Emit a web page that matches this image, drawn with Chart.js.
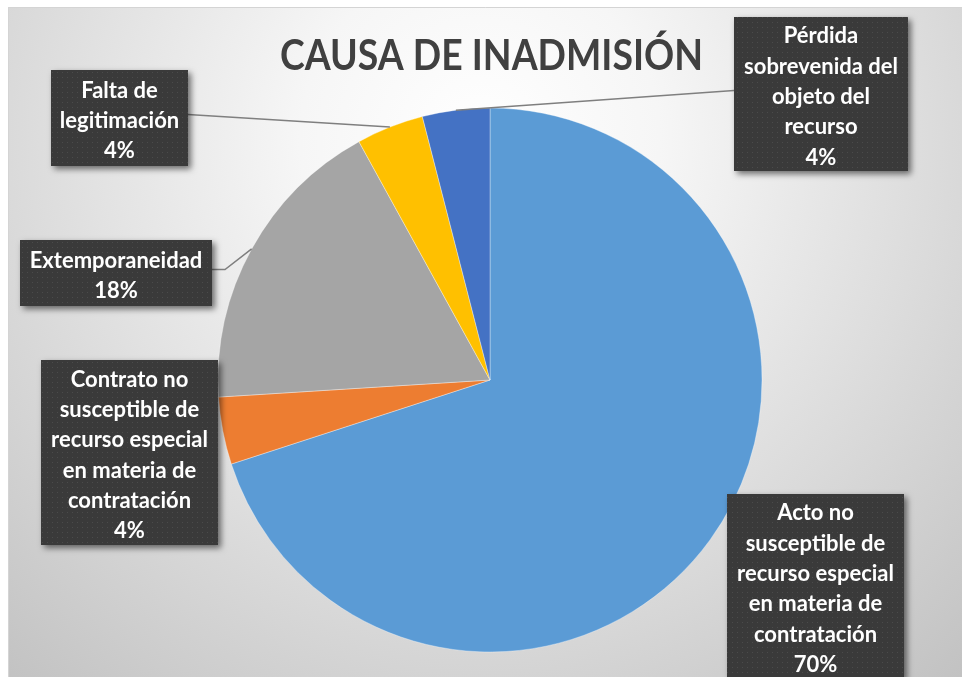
<!DOCTYPE html>
<html><head><meta charset="utf-8">
<script src="https://cdn.jsdelivr.net/npm/chart.js@4/dist/chart.umd.min.js"></script>
<style>html,body{margin:0;padding:0;background:#fff;overflow:hidden}#wrap{width:962px;height:677px;position:relative}</style>
</head><body><div id="wrap"><canvas id="c" width="962" height="677"></canvas></div>
<script>
const chartTitle = 'CAUSA DE INADMISIÓN';
const categories = [
  ['Acto no','susceptible de','recurso especial','en materia de','contratación'],
  ['Contrato no','susceptible de','recurso especial','en materia de','contratación'],
  ['Extemporaneidad'],
  ['Falta de','legitimación'],
  ['Pérdida','sobrevenida del','objeto del','recurso']
];
const values = [70, 4, 18, 4, 4];
const colors = ['#5B9BD5','#ED7D31','#A5A5A5','#FFC000','#4472C4'];

// label box layout (styling/layout, not data)
const boxes = [
  {x:727, y:494, w:177, h:184, leader:null},
  {x:41,  y:360, w:177, h:185, leader:null},
  {x:20,  y:240, w:192, h:66,  leader:'right', elbow:13},
  {x:51,  y:70,  w:137, h:96,  leader:'right'},
  {x:734, y:17,  w:174, h:154, leader:'left'}
];

function makePattern(ctx){
  const p = document.createElement('canvas');
  p.width = 5; p.height = 5;
  const pc = p.getContext('2d');
  pc.fillStyle = '#3a3a3a'; pc.fillRect(0,0,5,5);
  pc.fillStyle = '#4b4b4b'; pc.fillRect(2,2,1,1);
  return ctx.createPattern(p, 'repeat');
}

const bgPlugin = {
  id: 'bg',
  beforeDraw(chart){
    const ctx = chart.ctx;
    ctx.save();
    ctx.fillStyle = '#ffffff';
    ctx.fillRect(0,0,chart.width,chart.height);
    const g = ctx.createRadialGradient(480,140,0,480,140,720);
    g.addColorStop(0,'#ffffff');
    g.addColorStop(0.25,'#f6f6f6');
    g.addColorStop(1,'#c2c2c2');
    ctx.fillStyle = g;
    ctx.fillRect(8,7,chart.width-8,chart.height-7);
    ctx.strokeStyle = '#d4d4d4';
    ctx.lineWidth = 1;
    ctx.beginPath();
    ctx.moveTo(8.5,chart.height); ctx.lineTo(8.5,7.5); ctx.lineTo(chart.width,7.5);
    ctx.stroke();
    ctx.restore();
  }
};

const labelPlugin = {
  id: 'labels',
  afterDatasetsDraw(chart){
    const ctx = chart.ctx;
    const meta = chart.getDatasetMeta(0);
    const total = values.reduce((a,b)=>a+b,0);
    const pattern = makePattern(ctx);
    ctx.save();
    // leader lines
    meta.data.forEach((arc, i) => {
      const b = boxes[i];
      if (!b.leader) return;
      const mid = (arc.startAngle + arc.endAngle)/2;
      const px = arc.x + Math.cos(mid)*arc.outerRadius;
      const py = arc.y + Math.sin(mid)*arc.outerRadius;
      const ay = b.y + b.h/2 - 3.5;
      const ax = b.leader === 'left' ? b.x : b.x + b.w;
      ctx.strokeStyle = '#7f7f7f';
      ctx.lineWidth = 1.5;
      ctx.beginPath();
      ctx.moveTo(px, py);
      if (b.elbow) ctx.lineTo(ax + b.elbow, ay);
      ctx.lineTo(ax, ay);
      ctx.stroke();
    });
    // boxes
    meta.data.forEach((arc, i) => {
      const b = boxes[i];
      ctx.save();
      ctx.shadowColor = 'rgba(0,0,0,0.55)';
      ctx.shadowBlur = 6;
      ctx.shadowOffsetX = 3;
      ctx.shadowOffsetY = 3;
      ctx.fillStyle = pattern;
      ctx.fillRect(b.x, b.y, b.w, b.h);
      ctx.restore();
      const lines = categories[i].concat([Math.round(values[i]/total*100) + '%']);
      ctx.fillStyle = '#ffffff';
      ctx.font = 'bold 22px Lato';
      ctx.textAlign = 'center';
      ctx.textBaseline = 'middle';
      const lh = 30.3;
      const cy = b.y + b.h/2 + 3;
      const cx = b.x + b.w/2;
      lines.forEach((t, k) => {
        ctx.fillText(t, cx, cy + (k - (lines.length-1)/2)*lh);
      });
    });
    ctx.restore();
  },
  afterDraw(chart){
    const ctx = chart.ctx;
    ctx.save();
    ctx.fillStyle = '#404040';
    ctx.font = 'bold 42px Lato';
    ctx.textAlign = 'center';
    ctx.textBaseline = 'middle';
    const w = ctx.measureText(chartTitle).width;
    const sx = 423 / w;
    ctx.translate(491.5, 56);
    ctx.scale(sx, 1);
    ctx.fillText(chartTitle, 0, 0);
    ctx.restore();
  }
};

new Chart(document.getElementById('c'), {
  type: 'pie',
  data: {
    labels: categories,
    datasets: [{
      data: values,
      backgroundColor: colors,
      borderColor: 'rgba(255,255,255,0.35)',
      borderWidth: 1,
      hoverOffset: 0,
      radius: 272
    }]
  },
  options: {
    responsive: false,
    devicePixelRatio: 1,
    animation: false,
    layout: { padding: { top: 108, bottom: 25, left: 218, right: 200 } },
    plugins: { legend: { display: false }, tooltip: { enabled: false }, title: { display: false } }
  },
  plugins: [bgPlugin, labelPlugin]
});
</script>
</body></html>
